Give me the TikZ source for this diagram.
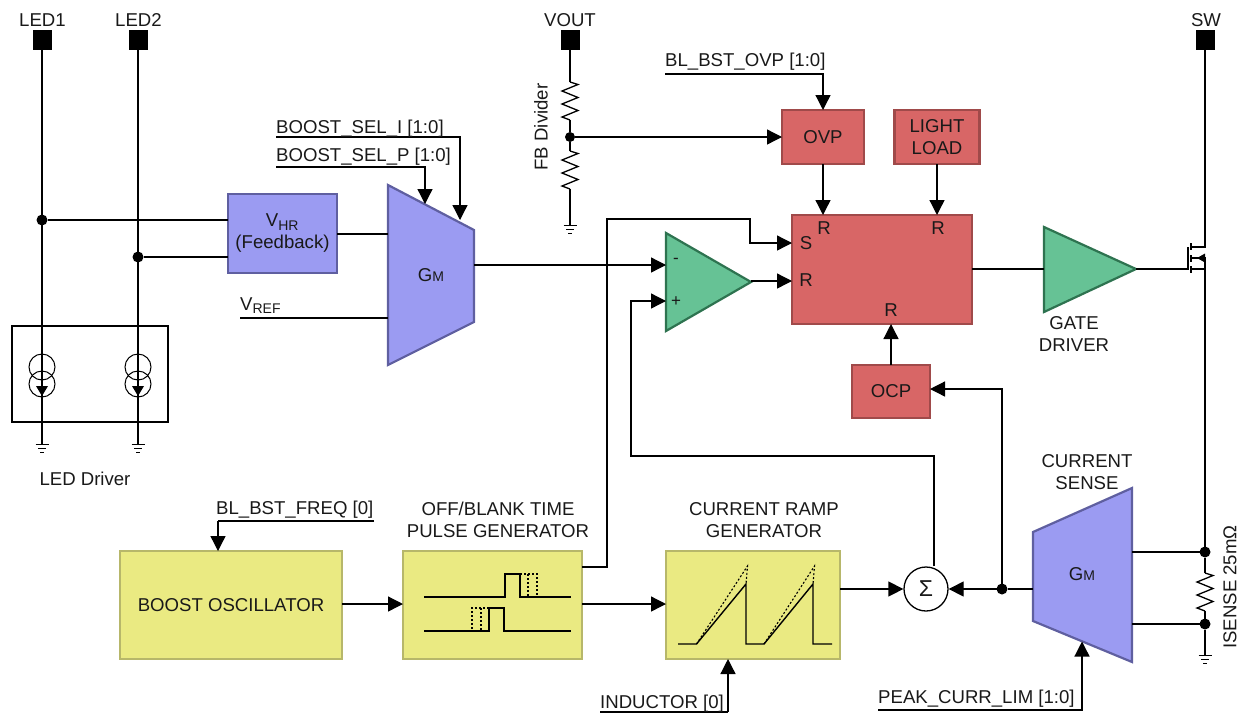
\documentclass[tikz,border=0pt]{standalone}
\usepackage{fontspec}
\setmainfont{Liberation Sans}
\usetikzlibrary{arrows.meta}
\definecolor{rfill}{HTML}{D86666}\definecolor{rline}{HTML}{A04A4A}
\definecolor{yfill}{HTML}{EAEA82}\definecolor{yline}{HTML}{B7B76A}
\definecolor{gfill}{HTML}{66C295}\definecolor{gline}{HTML}{2E7350}
\definecolor{pfill}{HTML}{9B9BF2}\definecolor{pline}{HTML}{5F5FA0}
\newcommand\sm[1]{{\fontsize{14}{14}\selectfont #1}}
\newcommand\myres[3]{\draw[wire] (#1,#2) -- ++(8,2.5) -- ++(-16,6.5) -- ++(16,6.5) -- ++(-16,6.5) -- ++(16,6.5) -- ++(-16,6.5) -- (#1,#3);}
\newcommand\mygnd[2]{\draw[thin wire] (#1-6.5,#2) -- (#1+6.5,#2) (#1-4,#2+4) -- (#1+4,#2+4) (#1-2,#2+8) -- (#1+2,#2+8);}
\tikzset{
  wire/.style={line width=1.3pt,black},
  thin wire/.style={line width=1pt,black},
  arr/.style={wire,-{Triangle[length=15pt,width=15pt]}},
  txt/.style={font=\fontsize{18.6}{22}\selectfont,inner sep=0pt,align=center,text=black!90},
  box/.style={rectangle,draw,line width=2.2pt,inner sep=0pt,outer sep=0pt,align=center,font=\fontsize{18.6}{22}\selectfont,text=black!90},
  rbox/.style={box,fill=rfill,draw=rline},
  ybox/.style={box,fill=yfill,draw=yline},
  pbox/.style={box,fill=pfill,draw=pline},
  gpoly/.style={fill=gfill,draw=gline,line width=2.2pt,line join=miter},
  ppoly/.style={fill=pfill,draw=pline,line width=2.2pt,line join=miter},
  pin/.style={rectangle,fill=black,minimum width=19pt,minimum height=20pt,inner sep=0pt,outer sep=0pt},
  dot/.style={circle,fill=black,minimum size=11pt,inner sep=0pt,outer sep=0pt},
  wave/.style={line width=1.4pt,black},
  dotw/.style={line width=1.1pt,black,dash pattern=on 2pt off 2pt},
}
\begin{document}
\begin{tikzpicture}[x=1pt,y=-1pt]
\useasboundingbox (0,0) rectangle (1241,713);
% pins
\node[pin] (led1) at (42,40) {};
\node[pin] (led2) at (138,40) {};
\node[pin] (vout) at (570,40) {};
\node[pin] (sw) at (1205,40) {};
\node[txt] (tled1) at (42.5,20) {LED1};
\node[txt] (tled2) at (138.5,20) {LED2};
\node[txt] (tvout) at (570,20) {VOUT};
\node[txt] (tsw) at (1206,20) {SW};
% LED driver
\node[rectangle,draw,line width=1.2pt,minimum width=156pt,minimum height=96pt,inner sep=0pt,outer sep=0pt] (drv) at (90,374) {};
\node[txt] (tdrv) at (85,479) {LED Driver};
\coordinate (g1) at (42,444);
\coordinate (g2) at (138,444);
\draw[wire] (led1.south) -- (g1);
\draw[wire] (led2.south) -- (g2);
\foreach \n/\x in {a/42,b/138}{
  \node[circle,draw,line width=1pt,minimum size=26pt,inner sep=0pt] (cs\n1) at (\x,367) {};
  \node[circle,draw,line width=1pt,minimum size=26pt,inner sep=0pt] (cs\n2) at (\x,384) {};
  \fill (\x-6,386) -- (\x+6,386) -- (\x,396) -- cycle;
}
\mygnd{42}{444}
\mygnd{138}{444}
% VHR
\node[pbox,minimum width=109pt,minimum height=79pt] (vhr) at (282.5,233.5) {V\textsubscript{\sm{HR}}\\(Feedback)};
\node[dot] (d1) at (42,220) {};
\node[dot] (d2) at (138,257) {};
\draw[wire] (d1) -- (vhr.west |- d1);
\draw[wire] (d2) -- (vhr.west |- d2);
% GM left
\draw[ppoly] (388,185) -- (474,230) -- (474,322) -- (388,365) -- cycle;
\node[txt] (tgm) at (431,275) {G\sm{M}};
\coordinate (gmin) at (388,234);
\coordinate (gmref) at (388,318);
\coordinate (gmout) at (474,265);
\coordinate (gmi) at (460,220);
\coordinate (gmp) at (425,204);
\draw[wire] (vhr.east |- gmin) -- (gmin);
\coordinate (vrefs) at (240,318);
\draw[wire] (vrefs) -- (gmref);
\node[txt,anchor=south west] (tvref) at (240,314) {V\textsubscript{\sm{REF}}};
\coordinate (seli) at (276,137);
\coordinate (selp) at (276,167);
\draw[arr] (seli) -| (gmi);
\draw[arr] (selp) -| (gmp);
\node[txt,anchor=south west] (tseli) at (276,138) {BOOST\_SEL\_I [1:0]};
\node[txt,anchor=south west] (tselp) at (276,165.5) {BOOST\_SEL\_P [1:0]};
% FB divider
\coordinate (r1t) at (570,82);
\coordinate (fbg) at (570,225);
\draw[wire] (vout.south) -- (r1t);
\myres{570}{82}{120}
\myres{570}{151}{189}
\node[dot,minimum size=10pt] (d3) at (570,137) {};
\draw[wire] (570,120) -- (d3) -- (570,151);
\draw[wire] (570,189) -- (fbg);
\mygnd{570}{225}
\node[txt,rotate=90] (tfb) at (541,127) {FB Divider};
% OVP etc
\node[rbox,minimum width=82pt,minimum height=54pt] (ovp) at (823,137) {OVP};
\node[rbox,minimum width=85pt,minimum height=54pt] (ll) at (937,137) {LIGHT\\LOAD};
\node[rbox,minimum width=180pt,minimum height=109pt] (sr) at (882,269.5) {};
\node[rbox,minimum width=78pt,minimum height=53pt] (ocp) at (891,391.5) {OCP};
\node[txt] (ts) at (806,243) {S};
\node[txt] (tr1) at (806,280) {R};
\node[txt] (tr2) at (824,228) {R};
\node[txt] (tr3) at (938,228) {R};
\node[txt] (tr4) at (891,310) {R};
\coordinate (ovpin) at (665,74);
\draw[arr] (ovpin) -| (ovp.north);
\node[txt,anchor=south west] (tovp) at (665,71) {BL\_BST\_OVP [1:0]};
\draw[arr] (d3) -- (ovp.west |- d3);
\draw[arr] (ovp.south) -- (sr.north -| ovp.south);
\draw[arr] (ll.south) -- (sr.north -| ll.south);
\draw[arr] (ocp.north) -- (sr.south -| ocp.north);
% comparator
\draw[gpoly] (666,233) -- (751,282) -- (666,331) -- cycle;
\node[txt,font=\fontsize{17}{17}\selectfont] (tm) at (676,261) {-};
\node[txt,font=\fontsize{17}{17}\selectfont] (tp) at (676,302) {+};
\coordinate (cmpm) at (666,265);
\coordinate (cmpp) at (666,301);
\coordinate (cmpo) at (751,281);
\draw[arr] (gmout) -- (cmpm);
\draw[arr] (cmpo) -- (sr.west |- cmpo);
% gate driver
\draw[gpoly] (1044,227) -- (1136,269) -- (1044,312) -- cycle;
\coordinate (gdin) at (1044,269);
\coordinate (gdout) at (1136,269);
\draw[wire] (sr.east |- gdin) -- (gdin);
\node[txt] (tgd) at (1074,334) {GATE\\DRIVER};
% MOSFET
\coordinate (mg) at (1188,269);
\draw[wire] (gdout) -- (mg) -- (1188,247);
\draw[line width=1.1pt] (1191,243) -- (1191,250) (1191,255) -- (1191,262) (1191,266) -- (1191,273);
\draw[wire] (sw.south) -- (1205,247) -- (1191,247);
\draw[wire] (1191,269) -- (1205,269) -- (1205,258) -- (1191,258);
\fill (1197,258) -- (1205,253.5) -- (1205,262.5) -- cycle;
% yellow blocks
\node[ybox,minimum width=222pt,minimum height=108pt] (osc) at (231,605) {BOOST OSCILLATOR};
\node[ybox,minimum width=179pt,minimum height=108pt] (pulse) at (492.5,605) {};
\node[ybox,minimum width=174pt,minimum height=108pt] (ramp) at (753,605) {};
\node[txt] (tpulse) at (498,520) {OFF/BLANK TIME\\PULSE GENERATOR};
\node[txt] (tramp) at (764,520) {CURRENT RAMP\\GENERATOR};
\coordinate (bfreq) at (374,521);
\coordinate (bfreqc) at (218,521);
\draw[wire] (bfreq) -- (bfreqc);
\draw[arr] (bfreqc) -- (bfreqc |- osc.north);
\node[txt,anchor=south west] (tfreq) at (216,519) {BL\_BST\_FREQ [0]};
\coordinate (oscy) at (342,604);
\draw[arr] (oscy) -- (pulse.west |- oscy);
\coordinate (pulsy) at (582,604);
\draw[arr] (pulsy) -- (ramp.west |- pulsy);
% waveforms
\draw[wave] (424,597) -- (505,597) -- (505,574) -- (520,574) -- (520,597) -- (571,597);
\draw[wave] (424,631) -- (489,631) -- (489,608) -- (504,608) -- (504,631) -- (571,631);
\draw[dotw] (520,574) -- (537,574) -- (537,597) (528,574) -- (528,597);
\draw[dotw] (489,608) -- (472,608) -- (472,631) (481,608) -- (481,631);
\draw[wave] (678,644) -- (696.5,644) -- (746,584) -- (746,644) -- (764,644) -- (813,584) -- (813,644) -- (832,644);
\draw[dotw] (696.5,644) -- (747.5,566) -- (746,584) (764,644) -- (814.5,566) -- (813,584);
% S path
\coordinate (pulsout) at (582,567);
\coordinate (sp1) at (607,219);
\coordinate (sp2) at (750,219);
\coordinate (sp3) at (750,243);
\draw[arr] (pulsout) -- (607,567) -- (sp1) -- (sp2) -- (sp3) -- (sr.west |- sp3);
% sigma
\node[circle,draw,line width=1.3pt,minimum size=44pt,inner sep=0pt,fill=white,text=black!90,font=\fontsize{23}{23}\selectfont] (sum) at (926,589) {Σ};
\coordinate (rampo) at (840,589);
\draw[arr] (rampo) -- (sum.west);
\coordinate (fb1) at (934,456);
\coordinate (fb2) at (631,456);
\draw[arr] (sum.north -| fb1) -- (fb1) -- (fb2) -- (fb2 |- cmpp) -- (cmpp);
% current sense
\draw[ppoly] (1033,532) -- (1132,488) -- (1132,662) -- (1033,621) -- cycle;
\node[txt] (tgm2) at (1082,574) {G\sm{M}};
\node[txt] (tcs) at (1087,472) {CURRENT\\SENSE};
\coordinate (csin) at (1033,589);
\node[dot] (d4) at (1002,589) {};
\draw[wire] (csin) -- (d4);
\draw[arr] (d4) -- (sum.east);
\draw[arr] (d4) -- (1002,389) -- (ocp.east |- 1002,389);
\coordinate (peak) at (878,710);
\coordinate (pk) at (1082,641.5);
\draw[arr] (peak) -| (pk);
\node[txt,anchor=south west] (tpeak) at (878,708) {PEAK\_CURR\_LIM [1:0]};
\coordinate (indl) at (600,712);
\coordinate (indc) at (728,712);
\draw[wire] (indl) -- (indc);
\draw[arr] (indc) -- (indc |- ramp.south);
\node[txt,anchor=south west] (tind) at (600,713) {INDUCTOR [0]};
% sense resistor
\node[dot] (d5) at (1205,552) {};
\node[dot] (d6) at (1205,624) {};
\draw[wire] (1132,552) -- (d5);
\draw[wire] (1132,624) -- (d6);
\draw[wire] (1205,269) -- (d5) -- (1205,573);
\myres{1205}{573}{611}
\draw[wire] (1205,611) -- (d6) -- (1205,655);
\mygnd{1205}{655}
\node[txt,rotate=90] (tis) at (1230,587) {ISENSE 25mΩ};
\end{tikzpicture}
\end{document}
